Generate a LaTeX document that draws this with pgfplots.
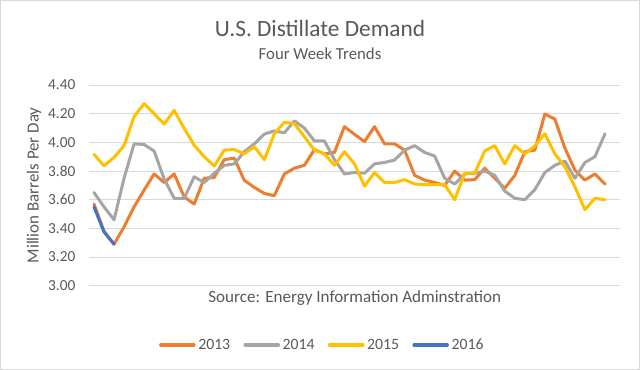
\documentclass[border=0pt]{standalone}
\usepackage{pgfplots}
\usepackage{pgfplotstable}
\pgfplotsset{compat=1.18}
\usepackage{fontspec}
\setmainfont{Carlito}
\definecolor{c13}{HTML}{ED7D31}
\definecolor{c14}{HTML}{A5A5A5}
\definecolor{c15}{HTML}{FFC000}
\definecolor{c16}{HTML}{4472C4}
\definecolor{txt}{HTML}{595959}
\definecolor{grd}{HTML}{D9D9D9}
\pgfplotstableread{
y
3.57
3.38
3.29
3.41
3.55
3.667
3.78
3.72
3.78
3.62
3.57
3.75
3.755
3.88
3.89
3.735
3.686
3.644
3.628
3.78
3.82
3.84
3.95
3.92
3.93
4.11
4.056
4.005
4.11
3.99
3.99
3.946
3.77
3.737
3.72
3.70
3.80
3.737
3.74
3.82
3.75
3.68
3.77
3.935
3.946
4.198
4.163
3.96
3.807
3.737
3.78
3.71
}\dataA
\pgfplotstableread{
y
3.65
3.55
3.46
3.75
3.99
3.985
3.94
3.745
3.61
3.61
3.76
3.72
3.785
3.84
3.85
3.935
3.99
4.058
4.08
4.067
4.15
4.10
4.01
4.01
3.88
3.78
3.79
3.785
3.85
3.86
3.877
3.946
3.977
3.93
3.905
3.75
3.71
3.78
3.785
3.80
3.77
3.66
3.61
3.60
3.67
3.79
3.84
3.87
3.75
3.86
3.90
4.06
}\dataB
\pgfplotstableread{
y
3.916
3.837
3.895
3.977
4.18
4.27
4.20
4.128
4.223
4.098
3.98
3.90
3.835
3.946
3.95
3.92
3.97
3.88
4.06
4.14
4.13
4.04
3.946
3.92
3.84
3.935
3.85
3.695
3.79
3.72
3.72
3.74
3.71
3.705
3.705
3.705
3.60
3.785
3.785
3.94
3.977
3.85
3.977
3.92
3.975
4.06
3.92
3.83
3.69
3.53
3.61
3.60
}\dataC
\pgfplotstableread{
y
3.55
3.375
3.29
}\dataD
\begin{document}
\begin{tikzpicture}
\useasboundingbox (0,0) rectangle (480pt,277.5pt);
\fill[white] (0,0) rectangle (480pt,277.5pt);
\draw[grd, line width=0.75pt] (0.375pt,0.375pt) rectangle (479.625pt,277.125pt);
\begin{axis}[
  at={(66.75pt,63.2pt)}, anchor=south west,
  scale only axis, width=398.25pt, height=150.5pt,
  xmin=-0.5, xmax=52.5, ymin=3, ymax=4.4,
  ytick={3,3.2,3.4,3.6,3.8,4,4.2,4.4},
  xtick=\empty,
  axis line style={draw=none},
  ymajorgrids, grid style={grd, line width=0.75pt},
  major tick length=0pt,
  clip=false,
  yticklabel style={font=\fontsize{11.5}{13}\selectfont, text=txt, inner sep=0pt, xshift=-10pt,
    /pgf/number format/fixed, /pgf/number format/fixed zerofill, /pgf/number format/precision=2,
    /pgf/number format/assume math mode=true},
  legend columns=4,
  legend style={at={(0.44,-0.295)}, anchor=center, draw=none, fill=none,
    font=\fontsize{11.8}{13}\selectfont, text=txt,
    /tikz/every even column/.append style={column sep=8pt},
    /tikz/every odd column/.append style={column sep=0pt}},
  legend image code/.code={\draw[line width=2.4pt, line cap=round] (0pt,0pt) -- (25pt,0pt);},
  every axis plot/.append style={line width=2.25pt, line join=round, line cap=round, no marks},
]
\addplot[c13] table[x expr=\coordindex, y=y] {\dataA};
\addlegendentry{2013}
\addplot[c14] table[x expr=\coordindex, y=y] {\dataB};
\addlegendentry{2014}
\addplot[c15] table[x expr=\coordindex, y=y] {\dataC};
\addlegendentry{2015}
\addplot[c16] table[x expr=\coordindex, y=y] {\dataD};
\addlegendentry{2016}
\end{axis}
\node[anchor=base, text=txt, font=\fontsize{17.5}{20}\selectfont] at (240pt,250pt) {U.S. Distillate Demand};
\node[anchor=base, text=txt, font=\fontsize{12.6}{14}\selectfont] at (240pt,233pt) {Four Week Trends};
\node[anchor=base, text=txt, font=\fontsize{12.8}{14}\selectfont] at (266pt,50.6pt) {Source: Energy Information Adminstration};
\node[rotate=90, text=txt, font=\fontsize{12.7}{14}\selectfont] at (25.5pt,138.45pt) {Million Barrels Per Day};
\end{tikzpicture}
\end{document}
